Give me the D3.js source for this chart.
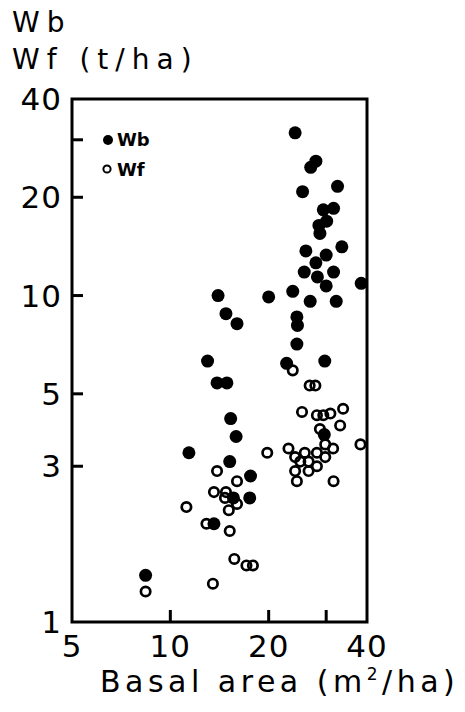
<!DOCTYPE html>
<html>
<head>
<meta charset="utf-8">
<script src="https://cdn.jsdelivr.net/npm/d3@7"></script>
<style>
  html, body { margin: 0; padding: 0; background: #fff; }
  svg { display: block; }
  text { font-family: "DejaVu Sans", sans-serif; fill: #000; }
</style>
</head>
<body>
<svg id="chart" width="465" height="712"></svg>
<script>
// Wb (filled circles): basal area (m2/ha) and Wb (t/ha)
const wbBasal = [24.1, 27.9, 26.9, 25.4, 32.5, 29.4, 31.6, 30.1, 28.5, 28.7,
                 26.0, 33.5, 30.0, 27.9, 25.7, 31.6, 28.2, 30.0, 38.4, 23.7,
                 14.0, 20.0, 26.8, 32.2, 14.8, 16.0, 24.4, 24.5, 24.4, 13.0,
                 22.7, 29.7, 13.9, 14.9, 15.3, 15.9, 11.4, 15.2, 17.6, 17.5,
                 15.6, 13.6, 8.4, 29.6];
const wbValue = [31.5, 25.8, 24.7, 20.8, 21.6, 18.3, 18.5, 16.9, 16.4, 15.5,
                 13.7, 14.1, 13.3, 12.6, 11.8, 11.8, 11.4, 10.7, 10.9, 10.3,
                 10.0, 9.9, 9.6, 9.6, 8.8, 8.2, 8.6, 8.1, 7.1, 6.3,
                 6.2, 6.3, 5.4, 5.4, 4.2, 3.7, 3.3, 3.1, 2.8, 2.4,
                 2.4, 2.0, 1.39, 3.75];
// Wf (open circles)
const wfBasal = [23.7, 26.7, 27.8, 25.3, 28.1, 29.4, 30.9, 33.8, 33.1, 28.7,
                 38.2, 19.8, 23.0, 25.8, 28.1, 31.5, 29.8, 24.1, 26.5, 29.8,
                 25.0, 28.1, 26.5, 24.1, 24.4, 31.6, 13.9, 16.0, 13.6, 14.8,
                 14.7, 16.0, 15.1, 11.2, 12.9, 15.2, 15.7, 17.1, 17.9, 13.5, 8.4];
const wfValue = [5.9, 5.3, 5.3, 4.4, 4.3, 4.3, 4.35, 4.5, 4.0, 3.9,
                 3.5, 3.3, 3.4, 3.3, 3.3, 3.4, 3.5, 3.2, 3.1, 3.2,
                 3.1, 3.0, 2.9, 2.9, 2.7, 2.7, 2.9, 2.7, 2.5, 2.5,
                 2.4, 2.3, 2.2, 2.25, 2.0, 1.9, 1.56, 1.49, 1.49, 1.31, 1.24];

const xTicks = [10, 20, 30];
const xTickLabels = [5, 10, 20, 40];
const yTicks = [3, 5, 10, 20, 30];
const yTickLabels = [1, 3, 5, 10, 20, 40];
const titleLines = ["Wb", "Wf (t/ha)"];
const xTitle = ["Basal area (m", "2", "/ha)"];
const legendItems = ["Wb", "Wf"];

const svg = d3.select("#chart");
const L = 72, R = 367, T = 99, B = 622;
const x = d3.scaleLog().domain([5, 40]).range([L, R]);
const y = d3.scaleLog().domain([1, 40]).range([B, T]);

// frame
svg.append("rect").attr("x", L).attr("y", T).attr("width", R - L).attr("height", B - T)
  .attr("fill", "none").attr("stroke", "#000").attr("stroke-width", 3);

// ticks
svg.selectAll(".xt").data(xTicks).join("line")
  .attr("x1", d => x(d)).attr("x2", d => x(d))
  .attr("y1", B).attr("y2", B - 12)
  .attr("stroke", "#000").attr("stroke-width", 3);
svg.selectAll(".yt").data(yTicks).join("line")
  .attr("y1", d => y(d)).attr("y2", d => y(d))
  .attr("x1", L).attr("x2", L + 11)
  .attr("stroke", "#000").attr("stroke-width", 3);

// tick labels
svg.selectAll(".xl").data(xTickLabels).join("text")
  .attr("x", d => x(d)).attr("y", 657)
  .attr("text-anchor", "middle")
  .attr("font-size", 31).attr("letter-spacing", 1)
  .text(d => d);
svg.selectAll(".yl").data(yTickLabels).join("text")
  .attr("x", 62).attr("y", d => y(d) + 11)
  .attr("text-anchor", "end")
  .attr("font-size", 31).attr("letter-spacing", 1)
  .text(d => d);

// axis titles
const tt = svg.append("g");
tt.selectAll("text").data(titleLines).join("text")
  .attr("x", 12).attr("y", (d, i) => 32 + i * 37)
  .attr("font-size", 28).attr("letter-spacing", 7)
  .text(d => d);

const xt = svg.append("text").attr("x", 100).attr("y", 692)
  .attr("font-size", 30).attr("letter-spacing", 4.5);
xt.append("tspan").text(xTitle[0]);
xt.append("tspan").attr("font-size", 17).attr("dy", -12).text(xTitle[1]);
xt.append("tspan").attr("dy", 12).attr("letter-spacing", 4.5).text(xTitle[2]);

// data points
svg.append("g").selectAll("circle").data(wfBasal.map((b, i) => [b, wfValue[i]])).join("circle")
  .attr("cx", d => x(d[0])).attr("cy", d => y(d[1])).attr("r", 4.7)
  .attr("fill", "none").attr("stroke", "#000").attr("stroke-width", 2.7);
svg.append("g").selectAll("circle").data(wbBasal.map((b, i) => [b, wbValue[i]])).join("circle")
  .attr("cx", d => x(d[0])).attr("cy", d => y(d[1])).attr("r", 6.5)
  .attr("fill", "#000");

// legend
const lg = svg.append("g");
lg.append("circle").attr("cx", 108).attr("cy", 140).attr("r", 5).attr("fill", "#000");
lg.append("circle").attr("cx", 107).attr("cy", 169).attr("r", 3.6)
  .attr("fill", "none").attr("stroke", "#000").attr("stroke-width", 2);
lg.selectAll("text").data(legendItems).join("text")
  .attr("x", 117).attr("y", (d, i) => 146 + i * 30)
  .attr("font-size", 18).attr("font-weight", "bold")
  .text(d => d);
</script>
</body>
</html>
